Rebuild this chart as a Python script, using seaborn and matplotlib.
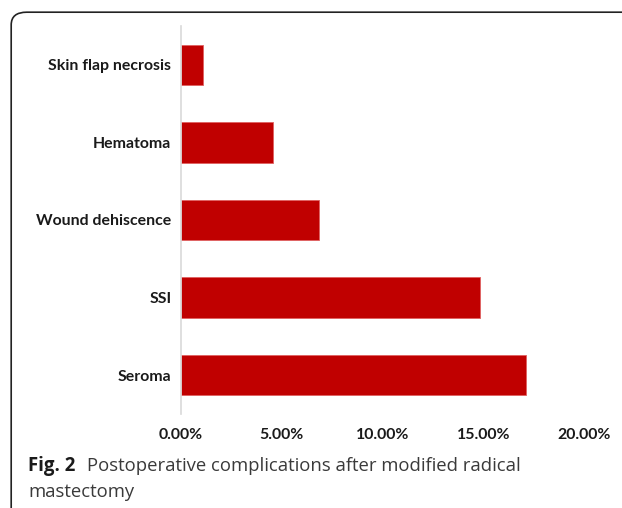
import matplotlib
matplotlib.use("Agg")
import matplotlib.pyplot as plt
from matplotlib.patches import FancyBboxPatch
from matplotlib.ticker import FuncFormatter
import seaborn as sns
import pandas as pd

# Postoperative complication rates (%)
complications = ["Skin flap necrosis", "Hematoma", "Wound dehiscence", "SSI", "Seroma"]
rates = [1.08, 4.55, 6.86, 14.82, 17.12]
x_ticks = [0, 5, 10, 15, 20]

sns.set_theme(style="white")
plt.rcParams["font.family"] = ["Lato", "DejaVu Sans"]

df = pd.DataFrame({"complication": complications, "rate": rates})

fig = plt.figure(figsize=(6.22, 5.08), dpi=100)
ax = fig.add_axes([0.291, 0.185, 0.648, 0.764])

sns.barplot(data=df, x="rate", y="complication", order=complications,
            color="#C00000", saturation=1, width=0.52,
            edgecolor="#E06060", linewidth=0.6, ax=ax)

ax.set_xlim(0, 20)
ax.set_ylim(4.5, -0.5)
ax.set_xticks(x_ticks)
ax.xaxis.set_major_formatter(FuncFormatter(lambda v, p: f"{v:.2f}%"))
ax.set_xlabel("")
ax.set_ylabel("")
for s in ["top", "right", "bottom"]:
    ax.spines[s].set_visible(False)
ax.spines["left"].set_color("#D9D9D9")
ax.spines["left"].set_linewidth(1.2)
ax.tick_params(axis="both", length=0)
ax.tick_params(axis="y", pad=7)
ax.tick_params(axis="x", pad=10)
for lab in ax.get_xticklabels() + ax.get_yticklabels():
    lab.set_fontweight("bold")
    lab.set_fontsize(11.4)
    lab.set_color("#1a1a1a")

# Caption
cap_font = ["Open Sans", "DejaVu Sans"]
fig.text(0.045, 0.0728, "Fig. 2", fontsize=13.4, fontweight="bold",
         family=cap_font, color="#1a1a1a", va="baseline")
fig.text(0.140, 0.0728, "Postoperative complications after modified radical",
         fontsize=13.3, family=cap_font, color="#3a3a3a", va="baseline")
fig.text(0.045, 0.0217, "mastectomy", fontsize=13.3,
         family=cap_font, color="#3a3a3a", va="baseline")

# Rounded frame around the figure
frame = FancyBboxPatch((0.018, -0.05), 1.2, 1.026,
                       boxstyle="round,pad=0,rounding_size=0.025",
                       transform=fig.transFigure, fill=False,
                       edgecolor="#222222", linewidth=1.2, clip_on=False)
fig.patches.append(frame)

fig.savefig("out.png", dpi=100)
